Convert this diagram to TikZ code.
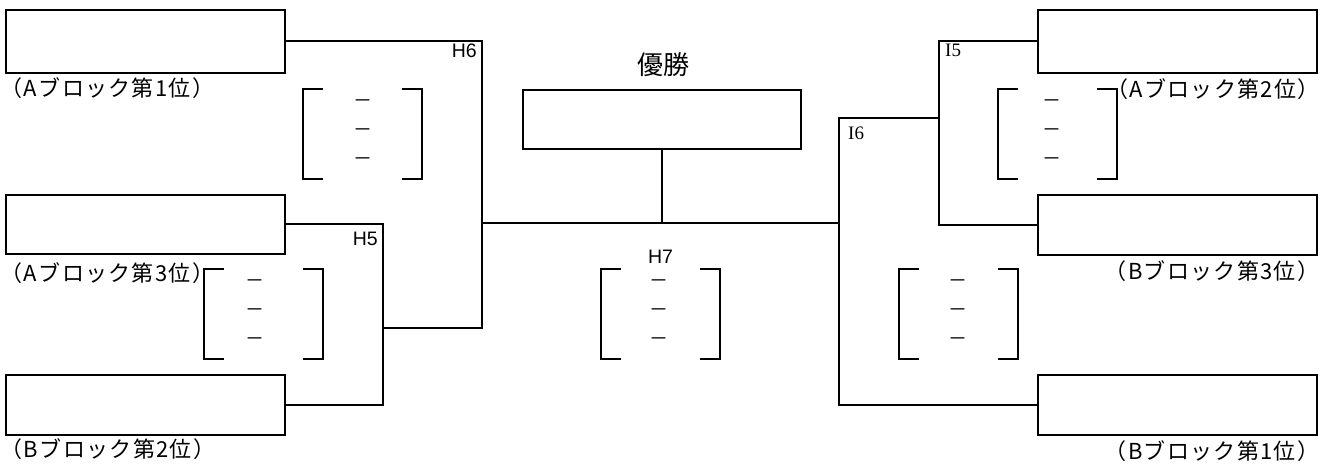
\documentclass[tikz,border=0pt]{standalone}
\usepackage{fontspec}
\newfontfamily\jpfont{Noto Sans CJK JP}
\newfontfamily\jplbl[LetterSpace=6]{Noto Sans CJK JP}
\newfontfamily\hfont{Liberation Sans}
\newfontfamily\ifont{Liberation Serif}
\tikzset{
  team/.style={draw, line width=2pt, minimum width=279pt, inner sep=0pt, anchor=north west},
  wire/.style={line width=2pt},
  lbl/.style={font=\jplbl\fontsize{22}{22}\selectfont, inner sep=0pt},
  rnd/.style={font=\hfont\fontsize{19.5}{19.5}\selectfont, inner sep=0pt},
  rndi/.style={font=\ifont\fontsize{19}{19}\selectfont, inner sep=0pt},
  sc/.style={font=\jpfont\fontsize{19}{19}\selectfont, inner sep=0pt},
  ttl/.style={font=\jpfont\fontsize{26}{26}\selectfont, inner sep=0pt},
}
\newcommand{\scorebrk}[3]{%
  \draw[wire] (#1+20,#2) -- (#1,#2) -- (#1,#2+90) -- (#1+20,#2+90);
  \draw[wire] (#1+99,#2) -- (#1+119,#2) -- (#1+119,#2+90) -- (#1+99,#2+90);
  \foreach \dy in {15,44,73} \node[sc] at (#3,#2+\dy) {－};
}
\begin{document}
\begin{tikzpicture}[x=1pt,y=-1pt]
\useasboundingbox (0,0) rectangle (1320,465);
% team boxes
\node[team, minimum height=63pt] (A1) at (5,9) {};
\node[team, minimum height=59pt] (A3) at (5,194) {};
\node[team, minimum height=60pt] (B2) at (5,374) {};
\node[team, minimum height=63pt] (A2) at (1037,9) {};
\node[team, minimum height=60pt] (B3) at (1037,194) {};
\node[team, minimum height=60pt] (B1) at (1037,374) {};
\node[team, minimum width=278pt, minimum height=59pt] (W) at (522,89) {};
% labels
\node[lbl, anchor=west] (lA1) at (0.5,88) {（Aブロック第1位）};
\node[lbl, anchor=west] (lA3) at (0.5,273) {（Aブロック第3位）};
\node[lbl, anchor=west] (lB2) at (0.5,449) {（Bブロック第2位）};
\node[lbl, anchor=west] (lA2) at (1106,89) {（Aブロック第2位）};
\node[lbl, anchor=east] (lB3) at (1319.5,271) {（Bブロック第3位）};
\node[lbl, anchor=east] (lB1) at (1319.5,451) {（Bブロック第1位）};
\node[ttl] (win) at (663,65) {優勝};
% round labels
\node[rnd, anchor=base east] (h6) at (477,58) {H6};
\node[rnd, anchor=base east] (h5) at (378,246) {H5};
\node[rnd, anchor=base] (h7) at (660.5,263) {H7};
\node[rndi, anchor=base west] (i5) at (945,57) {I5};
\node[rndi, anchor=base west] (i6) at (848,140) {I6};
% junctions
\coordinate (j5) at (383,328);
\coordinate (j6) at (482,223);
\coordinate (j7) at (839,223);
\coordinate (j8) at (939,118);
% connectors
\draw[wire] (A3.east) -| (j5) |- (B2.east);
\draw[wire] (A1.east) -| (j6) |- (j5);
\draw[wire] (j6) -- (j7);
\draw[wire] (W.south) -- (W.south |- j6);
\draw[wire] (A2.west) -| (j8) |- (B3.west);
\draw[wire] (j8) -| (j7) |- (B1.west);
% score brackets
\scorebrk{303}{89}{363}
\scorebrk{204}{269}{255}
\scorebrk{601}{269}{659}
\scorebrk{998}{89}{1052}
\scorebrk{899}{269}{958}
\end{tikzpicture}
\end{document}
